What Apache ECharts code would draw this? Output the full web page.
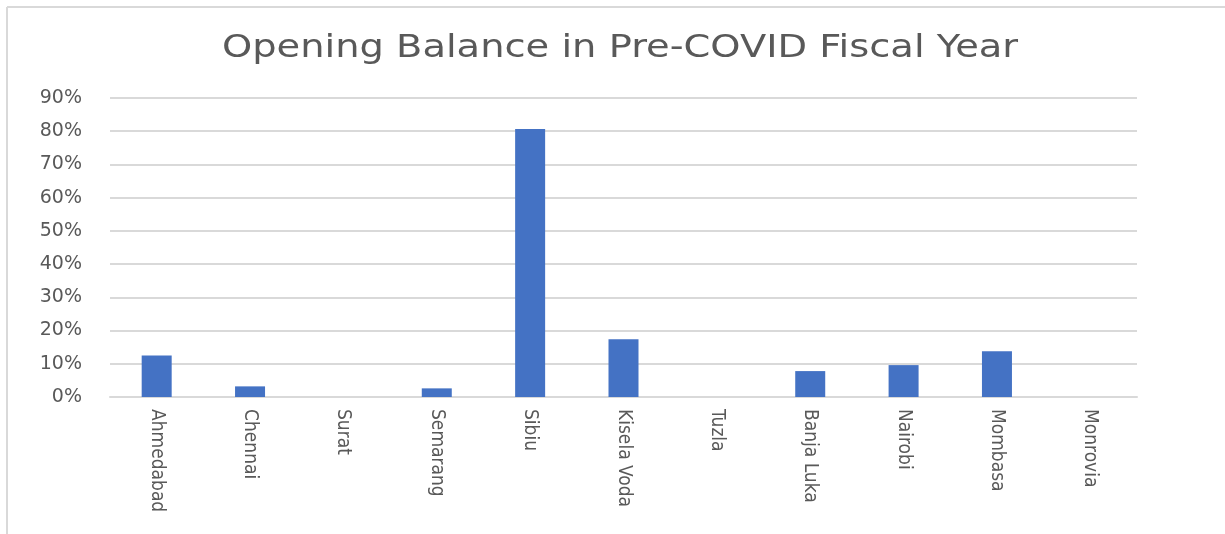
<!DOCTYPE html>
<html>
<head>
<meta charset="utf-8">
<title>Opening Balance in Pre-COVID Fiscal Year</title>
<script src="https://cdn.jsdelivr.net/npm/echarts@6/dist/echarts.min.js"></script>
<style>
  html, body { margin: 0; padding: 0; background: #fff; }
  #main { width: 1225px; height: 534px; }
</style>
</head>
<body>
<div id="main"></div>
<script>
// data
var cities = ['Ahmedabad', 'Chennai', 'Surat', 'Semarang', 'Sibiu', 'Kisela Voda',
  'Tuzla', 'Banja Luka', 'Nairobi', 'Mombasa', 'Monrovia'];
var openingBalance = [12.5, 3.2, 0, 2.6, 80.7, 17.4, 0, 7.8, 9.6, 13.8, 0];
var yTicks = [0, 10, 20, 30, 40, 50, 60, 70, 80, 90];
var titleText = 'Opening Balance in Pre-COVID Fiscal Year';

var myChart = echarts.init(document.getElementById('main'));

var option = {
  backgroundColor: '#ffffff',
  animation: false,
  graphic: [
    { type: 'line', shape: { x1: 7, y1: 7, x2: 1225, y2: 7 }, style: { stroke: '#d9d9d9', lineWidth: 2 } },
    { type: 'line', shape: { x1: 7, y1: 7, x2: 7, y2: 534 }, style: { stroke: '#d9d9d9', lineWidth: 2 } },
    {
      // title drawn as text, stretched a little wider like the reference
      type: 'text',
      x: 620,
      y: 49,
      scaleX: 1.2,
      style: {
        text: titleText,
        fontFamily: 'DejaVu Sans',
        fontSize: 32,
        fill: '#595959',
        align: 'center',
        verticalAlign: 'middle'
      }
    }
  ],
  grid: {
    left: 110,
    right: 88,
    top: 98,
    bottom: 137,
    containLabel: false
  },
  xAxis: {
    type: 'category',
    data: cities,
    axisLine: { lineStyle: { color: '#d9d9d9', width: 2 } },
    axisTick: { show: false },
    axisLabel: {
      interval: 0,
      rotate: -90,
      margin: 12,
      fontFamily: 'DejaVu Sans Condensed',
      fontSize: 19,
      color: '#595959'
    }
  },
  yAxis: {
    type: 'value',
    min: yTicks[0],
    max: yTicks[yTicks.length - 1],
    interval: 10,
    axisLine: { show: false },
    axisTick: { show: false },
    splitLine: { lineStyle: { color: '#d9d9d9', width: 2 } },
    axisLabel: {
      margin: 28,
      fontFamily: 'DejaVu Sans',
      fontSize: 19,
      color: '#595959',
      formatter: '{value}%'
    }
  },
  series: [
    {
      name: 'Opening Balance',
      type: 'bar',
      data: openingBalance,
      barWidth: 30,
      itemStyle: { color: '#4472c4' }
    }
  ]
};

myChart.setOption(option);
window.onresize = myChart.resize;
</script>
</body>
</html>
